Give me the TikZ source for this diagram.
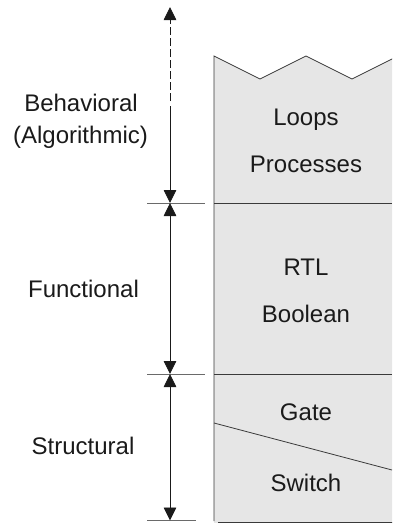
\documentclass[tikz,border=0pt]{standalone}
\usepackage{fontspec}
\setmainfont{Liberation Sans}
\usetikzlibrary{arrows.meta}
\definecolor{boxfill}{HTML}{E6E6E6}
\definecolor{edge}{HTML}{3A3A3A}
\definecolor{tick}{HTML}{6A6A6A}
\definecolor{ink}{HTML}{1A1A1A}
\begin{document}
\begin{tikzpicture}[x=1pt,y=-1pt,
  lbl/.style={font=\fontsize{24}{28}\selectfont, text height=17pt, text depth=0pt, inner sep=0pt, text=ink},
  dim/.style={ink, line width=0.9pt},
  tickline/.style={tick, line width=0.9pt},
  divider/.style={edge, line width=0.9pt}]
\useasboundingbox (0,0) rectangle (392,523);
\begin{scope}
\clip (0,0) rectangle (392,523);
\fill[boxfill] (214,56) -- (260,79) -- (306,56) -- (352,79) -- (398,56) -- (398,523) -- (214,523) -- cycle;
\draw[edge, line width=0.8pt] (214,521) -- (214,56) -- (260,79) -- (306,56) -- (352,79) -- (398,56);
\draw[edge, line width=2pt] (218,522.5) -- (398,522.5);
\end{scope}
% dividers inside the box
\coordinate (d1l) at (214,203); \coordinate (d1r) at (392,203);
\coordinate (d2l) at (214,374); \coordinate (d2r) at (392,374);
\coordinate (sl) at (214,423); \coordinate (sr) at (392,470);
\draw[divider] (d1l) -- (d1r);
\draw[divider] (d2l) -- (d2r);
\draw[edge, line width=0.8pt] (sl) -- (sr);
% ticks
\coordinate (k1a) at (147,203); \coordinate (k1b) at (205,203);
\coordinate (k2a) at (147,374); \coordinate (k2b) at (205,374);
\coordinate (k3a) at (147,520.5); \coordinate (k3b) at (196,520.5);
\draw[tickline] (k1a) -- (k1b);
\draw[tickline] (k2a) -- (k2b);
\draw[tickline] (k3a) -- (k3b);
% dimension arrows
\coordinate (top) at (170,7);
\coordinate (dashend) at (170,101);
\coordinate (solidstart) at (170,106);
\coordinate (m1) at (170,203);
\coordinate (m2) at (170,374);
\coordinate (m3) at (170,520.5);
\draw[dim, dash pattern=on 8pt off 3pt, -{Triangle[length=13pt,width=12.5pt]}] (dashend) -- (top);
\draw[dim, -{Triangle[length=13pt,width=12.5pt]}] (solidstart) -- (m1);
\draw[dim, {Triangle[length=13pt,width=12.5pt]}-{Triangle[length=13pt,width=12.5pt]}] (m1) -- (m2);
\draw[dim, {Triangle[length=13pt,width=12.5pt]}-{Triangle[length=13pt,width=12.5pt]}] (m2) -- (m3);
% left labels
\node[lbl] (beh) at (81,103) {Behavioral};
\node[lbl] (alg) at (80.5,135) {(Algorithmic)};
\node[lbl] (fun) at (83.5,289) {Functional};
\node[lbl] (str) at (83,446) {Structural};
% box labels
\node[lbl] (loops) at (306,117) {Loops};
\node[lbl] (proc) at (306,164) {Processes};
\node[lbl] (rtl) at (306,267) {RTL};
\node[lbl] (bool) at (306,314) {Boolean};
\node[lbl] (gate) at (306,412) {Gate};
\node[lbl] (sw) at (306,483) {Switch};
\end{tikzpicture}
\end{document}
